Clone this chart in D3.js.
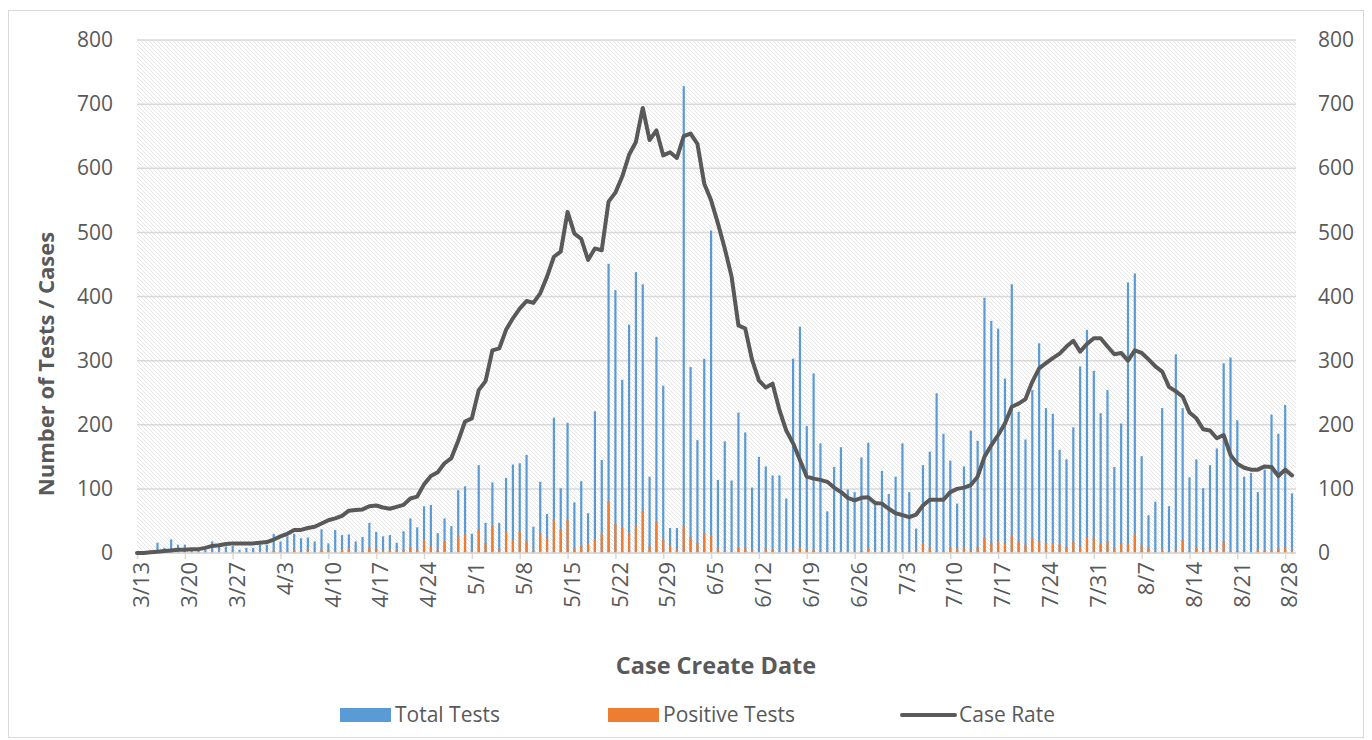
<!DOCTYPE html>
<html>
<head>
<meta charset="utf-8">
<style>
  body { margin: 0; background: #fff; }
  svg text { font-family: "Open Sans", Lato, sans-serif; fill: #595959; }
</style>
</head>
<body>
<svg id="chart" width="1372" height="740"></svg>
<script src="https://d3js.org/d3.v7.min.js"></script>
<script>
// daily values, 3/13 .. 8/29
const startDate = "2020-03-13";

const totalTests = [
  0, 0, 2, 16, 8, 21, 13, 13, 4, 3,
  5, 18, 10, 10, 11, 5, 8, 8, 13, 13,
  30, 18, 26, 30, 23, 24, 18, 37, 15, 36,
  28, 29, 18, 25, 47, 33, 26, 28, 16, 34,
  54, 40, 73, 75, 31, 54, 42, 98, 104, 30,
  137, 47, 110, 47, 117, 138, 140, 153, 41, 111,
  61, 211, 101, 203, 79, 112, 62, 221, 145, 451,
  410, 270, 356, 438, 419, 119, 337, 261, 39, 39,
  728, 290, 176, 303, 503, 114, 174, 113, 219, 188,
  102, 150, 135, 121, 121, 85, 303, 353, 198, 280,
  171, 65, 134, 165, 99, 95, 149, 172, 76, 128,
  92, 119, 171, 95, 38, 137, 158, 249, 186, 144,
  77, 135, 191, 175, 398, 362, 350, 272, 419, 220,
  177, 254, 327, 226, 217, 161, 146, 196, 291, 348,
  284, 218, 254, 134, 202, 422, 436, 151, 59, 80,
  226, 73, 310, 226, 118, 146, 101, 137, 163, 296,
  305, 207, 119, 125, 95, 130, 216, 186, 231, 93
];

const positiveTests = [
  0, 0, 0, 1, 0, 1, 0, 1, 0, 0,
  0, 3, 1, 1, 2, 0, 1, 1, 2, 2,
  4, 3, 3, 5, 2, 6, 2, 6, 4, 3,
  6, 7, 3, 4, 8, 7, 4, 5, 4, 5,
  8, 6, 20, 10, 5, 18, 3, 26, 29, 4,
  36, 16, 42, 6, 33, 20, 34, 18, 4, 30,
  23, 53, 36, 52, 7, 12, 14, 22, 30, 80,
  46, 39, 31, 42, 66, 12, 48, 21, 12, 5,
  42, 25, 16, 31, 28, 7, 3, 3, 8, 8,
  4, 1, 7, 5, 3, 1, 5, 8, 5, 5,
  3, 3, 2, 3, 2, 2, 3, 7, 2, 3,
  2, 3, 2, 2, 4, 14, 8, 3, 3, 8,
  7, 8, 4, 9, 24, 16, 18, 14, 28, 17,
  13, 23, 18, 16, 15, 14, 9, 18, 10, 24,
  25, 15, 18, 7, 15, 14, 29, 12, 7, 3,
  5, 1, 4, 20, 2, 8, 4, 5, 5, 18,
  3, 3, 3, 0, 5, 4, 4, 7, 8, 4
];

const caseRate = [
  0, 0, 1, 2, 3, 4, 5, 5, 6, 6,
  8, 11, 12, 14, 15, 15, 15, 15, 16, 17,
  21, 26, 30, 36, 36, 39, 41, 46, 51, 54,
  58, 66, 67, 68, 73, 74, 71, 69, 72, 75,
  85, 88, 107, 120, 126, 140, 148, 175, 205, 210,
  254, 268, 316, 319, 348, 366, 381, 393, 390, 405,
  431, 462, 470, 532, 498, 490, 457, 475, 472, 548,
  562, 587, 621, 641, 694, 644, 659, 620, 625, 616,
  650, 654, 638, 576, 550, 514, 475, 431, 355, 350,
  301, 269, 258, 264, 223, 191, 171, 145, 119, 116,
  114, 111, 102, 95, 86, 82, 86, 87, 78, 77,
  69, 62, 59, 56, 60, 74, 83, 83, 83, 95,
  100, 102, 106, 119, 150, 168, 184, 202, 228, 233,
  240, 267, 288, 296, 304, 311, 322, 331, 314, 326,
  335, 335, 322, 310, 312, 300, 316, 312, 302, 291,
  283, 259, 252, 244, 219, 210, 193, 191, 179, 184,
  153, 139, 133, 130, 130, 135, 134, 120, 130, 121
];

const tickLabels = ["3/13", "3/20", "3/27", "4/3", "4/10", "4/17", "4/24", "5/1", "5/8",
  "5/15", "5/22", "5/29", "6/5", "6/12", "6/19", "6/26", "7/3", "7/10", "7/17",
  "7/24", "7/31", "8/7", "8/14", "8/21", "8/28"];
const yTicks = [0, 100, 200, 300, 400, 500, 600, 700, 800];

const svg = d3.select("#chart");
const plot = { left: 137, right: 1296, top: 40, bottom: 553 };

const start = new Date(startDate + "T00:00:00Z");
const dates = totalTests.map((d, i) => d3.utcDay.offset(start, i));
const rows = dates.map((d, i) => ({ date: d, total: totalTests[i], pos: positiveTests[i], rate: caseRate[i] }));

const x = d3.scaleUtc()
  .domain([start, d3.utcHour.offset(dates[dates.length - 1], 14)])
  .range([plot.left, plot.right]);
const y = d3.scaleLinear().domain([0, 800]).range([plot.bottom, plot.top]);

// chart border
svg.append("rect")
  .attr("x", 8.5).attr("y", 10.5).attr("width", 1355).attr("height", 727)
  .attr("fill", "none").attr("stroke", "#d9d9d9");

// hatch background
const defs = svg.append("defs");
const pat = defs.append("pattern")
  .attr("id", "hatch").attr("patternUnits", "userSpaceOnUse")
  .attr("width", 4).attr("height", 4);
pat.append("rect").attr("width", 4).attr("height", 4).attr("fill", "#fff");
pat.append("path")
  .attr("d", "M0,0 L4,4 M-1,3 L1,5 M3,-1 L5,1")
  .attr("stroke", "#e3e3e3").attr("stroke-width", 0.9);

svg.append("rect")
  .attr("x", plot.left).attr("y", plot.top)
  .attr("width", plot.right - plot.left).attr("height", plot.bottom - plot.top)
  .attr("fill", "url(#hatch)");

// gridlines
svg.append("g")
  .selectAll("line")
  .data(yTicks)
  .enter().append("line")
    .attr("x1", plot.left).attr("x2", plot.right)
    .attr("y1", d => y(d)).attr("y2", d => y(d))
    .attr("stroke", "#d9d9d9").attr("stroke-width", 1.5);

// y axes
const yLeft = svg.append("g")
  .attr("transform", `translate(${plot.left},0)`)
  .call(d3.axisLeft(y).tickValues(yTicks).tickSize(0).tickPadding(24));
const yRight = svg.append("g")
  .attr("transform", `translate(${plot.right},0)`)
  .call(d3.axisRight(y).tickValues(yTicks).tickSize(0).tickPadding(22));
[yLeft, yRight].forEach(g => {
  g.select(".domain").remove();
  g.selectAll("text").style("font-size", "21px").style("fill", "#595959");
});

// bars
const barW = 2.2;
svg.append("g")
  .selectAll("rect")
  .data(rows)
  .enter().append("rect")
    .attr("x", d => x(d.date) - barW / 2)
    .attr("y", d => y(d.total))
    .attr("width", barW)
    .attr("height", d => y(0) - y(d.total))
    .attr("fill", "#5b9bd5");

svg.append("g")
  .selectAll("rect")
  .data(rows)
  .enter().append("rect")
    .attr("x", d => x(d.date) - barW / 2)
    .attr("y", d => y(d.pos))
    .attr("width", barW)
    .attr("height", d => y(0) - y(d.pos))
    .attr("fill", "#ed7d31");

// x axis
const tickDates = tickLabels.map(t => {
  const [m, dd] = t.split("/").map(Number);
  return new Date(Date.UTC(2020, m - 1, dd));
});
const xAxis = svg.append("g")
  .attr("transform", `translate(0,${plot.bottom})`)
  .call(d3.axisBottom(x).tickValues(tickDates).tickFormat((d, i) => tickLabels[i]).tickSize(6));
xAxis.select(".domain").attr("stroke", "#d9d9d9").attr("stroke-width", 1.5)
  .attr("d", `M${plot.left},0H${plot.right}`);
xAxis.selectAll(".tick line").attr("stroke", "#d9d9d9").attr("stroke-width", 1.5);
xAxis.selectAll("text")
  .attr("transform", "translate(4,0) rotate(-90)")
  .attr("x", -9).attr("y", 0).attr("dy", "0.35em")
  .attr("text-anchor", "end")
  .style("font-size", "22px").style("fill", "#595959");

// case rate line
const line = d3.line().x(d => x(d.date)).y(d => y(d.rate));
svg.append("path")
  .datum(rows)
  .attr("d", line)
  .attr("fill", "none")
  .attr("stroke", "#595959")
  .attr("stroke-width", 4)
  .attr("stroke-linejoin", "round")
  .attr("stroke-linecap", "round");

// axis titles
svg.append("text")
  .attr("transform", "translate(54,364) rotate(-90)")
  .attr("text-anchor", "middle")
  .style("font-size", "22px").style("font-weight", "bold")
  .text("Number of Tests / Cases");

svg.append("text")
  .attr("x", 716).attr("y", 674)
  .attr("text-anchor", "middle")
  .style("font-size", "23.5px").style("font-weight", "bold")
  .text("Case Create Date");

// legend
const legend = [
  { name: "Total Tests", color: "#5b9bd5", type: "bar", x: 340 },
  { name: "Positive Tests", color: "#ed7d31", type: "bar", x: 608 },
  { name: "Case Rate", color: "#595959", type: "line", x: 900 }
];
const lg = svg.append("g").selectAll("g").data(legend).enter().append("g")
  .attr("transform", d => `translate(${d.x},715)`);
lg.filter(d => d.type === "bar").append("rect")
  .attr("x", 0).attr("y", -7).attr("width", 51).attr("height", 14)
  .attr("fill", d => d.color);
lg.filter(d => d.type === "line").append("line")
  .attr("x1", 2).attr("x2", 55).attr("y1", 0).attr("y2", 0)
  .attr("stroke", d => d.color).attr("stroke-width", 4).attr("stroke-linecap", "round");
lg.append("text")
  .attr("x", d => d.type === "line" ? 59 : 55).attr("y", 0).attr("dy", "0.35em")
  .style("font-size", "21px")
  .text(d => d.name);
</script>
</body>
</html>
